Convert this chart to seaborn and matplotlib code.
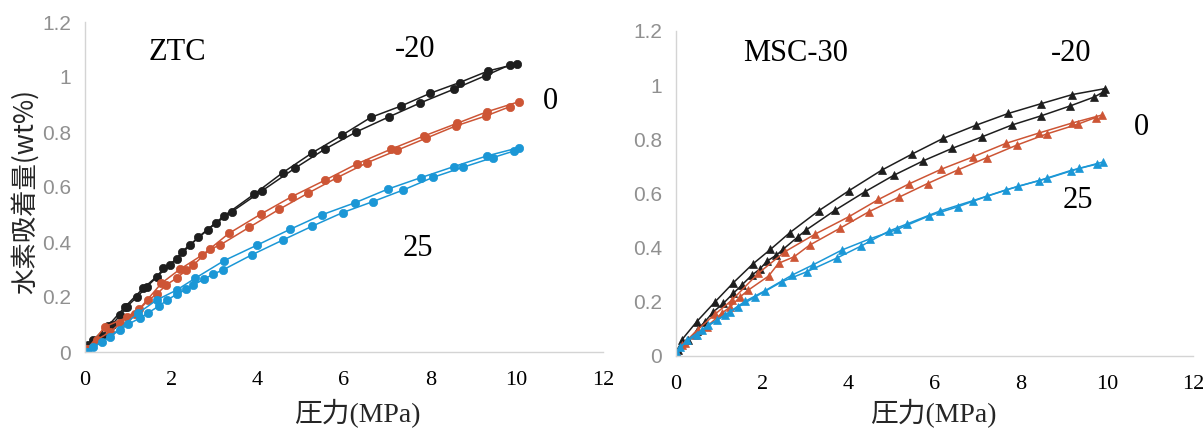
import matplotlib
matplotlib.use("Agg")
import matplotlib.pyplot as plt
import seaborn as sns
import pandas as pd

# ---------------- data: ZTC (left) ----------------
ztc_m20_ads_p = [0.08, 0.39, 0.62, 0.81, 0.97, 1.21, 1.43, 1.66, 1.81, 2.12, 2.24, 2.43, 2.84, 3.03, 3.40, 4.11, 4.86, 5.55, 6.28, 7.04, 7.77, 8.55, 9.28, 9.84]
ztc_m20_ads_q = [0.025, 0.058, 0.098, 0.133, 0.165, 0.201, 0.237, 0.272, 0.304, 0.337, 0.365, 0.389, 0.444, 0.468, 0.510, 0.587, 0.668, 0.737, 0.800, 0.855, 0.906, 0.956, 1.005, 1.044]
ztc_m20_des_p = [10.01, 9.34, 8.68, 8.00, 7.33, 6.62, 5.95, 5.26, 4.58, 3.91, 3.22, 2.62, 1.97, 1.35, 0.93, 0.54, 0.19, 0.04]
ztc_m20_des_q = [1.048, 1.022, 0.980, 0.941, 0.895, 0.853, 0.788, 0.724, 0.652, 0.573, 0.495, 0.417, 0.316, 0.232, 0.165, 0.096, 0.044, 0.007]

ztc_0_ads_p = [0.05, 0.27, 0.59, 0.81, 0.97, 1.26, 1.47, 1.67, 1.88, 2.12, 2.35, 2.51, 2.89, 3.13, 3.80, 4.50, 5.16, 5.84, 6.53, 7.22, 7.91, 8.59, 9.30, 9.84]
ztc_0_ads_q = [0.010, 0.044, 0.074, 0.104, 0.128, 0.155, 0.189, 0.211, 0.244, 0.268, 0.298, 0.316, 0.373, 0.389, 0.453, 0.519, 0.577, 0.634, 0.688, 0.733, 0.778, 0.822, 0.859, 0.892]
ztc_0_des_p = [10.05, 9.32, 8.61, 7.86, 7.08, 6.31, 5.55, 4.79, 4.08, 3.33, 2.72, 2.20, 1.77, 1.16, 0.46, 0.05]
ztc_0_des_q = [0.910, 0.874, 0.831, 0.786, 0.737, 0.685, 0.624, 0.565, 0.502, 0.431, 0.353, 0.301, 0.250, 0.138, 0.092, 0.010]

ztc_25_ads_p = [0.04, 0.19, 0.39, 0.81, 1.00, 1.27, 1.47, 1.71, 1.91, 2.12, 2.35, 2.51, 2.75, 2.97, 3.19, 3.86, 4.58, 5.27, 5.97, 6.67, 7.37, 8.06, 8.76, 9.45, 9.94]
ztc_25_ads_q = [0.001, 0.019, 0.037, 0.080, 0.101, 0.123, 0.143, 0.167, 0.189, 0.210, 0.228, 0.244, 0.264, 0.283, 0.298, 0.353, 0.407, 0.458, 0.507, 0.547, 0.589, 0.635, 0.672, 0.707, 0.731]
ztc_25_des_p = [10.05, 9.31, 8.54, 7.78, 7.01, 6.26, 5.49, 4.75, 3.99, 3.22, 2.55, 2.12, 1.66, 1.23, 0.58, 0.04]
ztc_25_des_q = [0.743, 0.713, 0.674, 0.634, 0.592, 0.543, 0.499, 0.446, 0.389, 0.332, 0.268, 0.225, 0.189, 0.141, 0.056, 0.001]

# ---------------- data: MSC-30 (right) ----------------
msc_m20_ads_p = [0.05, 0.29, 0.48, 0.67, 0.87, 1.10, 1.33, 1.53, 1.76, 1.94, 2.12, 2.33, 2.48, 2.83, 3.02, 3.70, 4.38, 5.05, 5.74, 6.41, 7.11, 7.79, 8.47, 9.15, 9.71, 9.90]
msc_m20_ads_q = [0.020, 0.057, 0.092, 0.125, 0.162, 0.193, 0.230, 0.261, 0.297, 0.319, 0.350, 0.371, 0.392, 0.439, 0.464, 0.538, 0.605, 0.666, 0.720, 0.766, 0.809, 0.852, 0.886, 0.923, 0.956, 0.973]
msc_m20_des_p = [9.96, 9.20, 8.47, 7.71, 6.97, 6.20, 5.48, 4.77, 4.01, 3.31, 2.64, 2.19, 1.78, 1.33, 0.91, 0.48, 0.13, 0.02]
msc_m20_des_q = [0.987, 0.965, 0.931, 0.895, 0.852, 0.803, 0.745, 0.685, 0.609, 0.535, 0.454, 0.392, 0.338, 0.269, 0.199, 0.125, 0.057, 0.010]

msc_0_ads_p = [0.03, 0.21, 0.44, 0.71, 1.06, 1.26, 1.49, 1.68, 2.15, 2.38, 2.74, 3.10, 3.80, 4.47, 5.17, 5.84, 6.54, 7.22, 7.91, 8.60, 9.32, 9.74]
msc_0_ads_q = [0.008, 0.047, 0.076, 0.106, 0.156, 0.180, 0.217, 0.242, 0.294, 0.341, 0.365, 0.408, 0.470, 0.531, 0.585, 0.636, 0.686, 0.732, 0.778, 0.819, 0.855, 0.880]
msc_0_des_p = [9.88, 9.20, 8.43, 7.65, 6.90, 6.16, 5.40, 4.70, 4.01, 3.23, 2.53, 1.91, 1.30, 0.90, 0.50, 0.15, 0.02]
msc_0_des_q = [0.889, 0.860, 0.823, 0.784, 0.735, 0.689, 0.634, 0.577, 0.513, 0.449, 0.384, 0.304, 0.205, 0.152, 0.095, 0.040, 0.008]

msc_25_ads_p = [0.02, 0.09, 0.48, 0.75, 0.95, 1.26, 1.45, 1.84, 2.46, 3.04, 3.74, 4.30, 4.94, 5.37, 6.12, 6.90, 7.65, 8.43, 9.16, 9.78]
msc_25_ads_q = [0.005, 0.033, 0.076, 0.113, 0.131, 0.162, 0.180, 0.217, 0.273, 0.310, 0.361, 0.405, 0.460, 0.487, 0.534, 0.573, 0.612, 0.647, 0.684, 0.708]
msc_25_des_p = [9.92, 9.36, 8.62, 7.94, 7.22, 6.54, 5.87, 5.13, 4.51, 3.85, 3.19, 2.69, 2.07, 1.60, 1.14, 0.60, 0.25, 0.03]
msc_25_des_q = [0.716, 0.692, 0.655, 0.626, 0.589, 0.550, 0.516, 0.466, 0.432, 0.390, 0.336, 0.297, 0.240, 0.200, 0.150, 0.094, 0.057, 0.010]

temps = ["-20", "0", "25"]
x_ticks = [0, 2, 4, 6, 8, 10, 12]
y_ticks = [0, 0.2, 0.4, 0.6, 0.8, 1.0, 1.2]
y_tick_labels = ["0", "0.2", "0.4", "0.6", "0.8", "1", "1.2"]
x_label = "圧力(MPa)"
y_label = "水素吸着量(wt%)"

colors = {"-20": "#1e1e1e", "0": "#cd5535", "25": "#1b97d6"}


def build(series):
    rows = []
    for temp, branch, ps, qs in series:
        for p, q in zip(ps, qs):
            rows.append({"P": p, "Q": q, "T": temp, "branch": f"{temp}_{branch}"})
    return pd.DataFrame(rows)


df_ztc = build([
    ("-20", "ads", ztc_m20_ads_p, ztc_m20_ads_q), ("-20", "des", ztc_m20_des_p, ztc_m20_des_q),
    ("0", "ads", ztc_0_ads_p, ztc_0_ads_q), ("0", "des", ztc_0_des_p, ztc_0_des_q),
    ("25", "ads", ztc_25_ads_p, ztc_25_ads_q), ("25", "des", ztc_25_des_p, ztc_25_des_q),
])
df_msc = build([
    ("-20", "ads", msc_m20_ads_p, msc_m20_ads_q), ("-20", "des", msc_m20_des_p, msc_m20_des_q),
    ("0", "ads", msc_0_ads_p, msc_0_ads_q), ("0", "des", msc_0_des_p, msc_0_des_q),
    ("25", "ads", msc_25_ads_p, msc_25_ads_q), ("25", "des", msc_25_des_p, msc_25_des_q),
])

sns.set_theme(style="white")
plt.rcParams["font.family"] = ["Liberation Serif", "Noto Sans CJK JP"]

fig = plt.figure(figsize=(12.04, 4.30), dpi=100)
ax1 = fig.add_axes([85 / 1204, 78 / 430, 518 / 1204, 330 / 430])
ax2 = fig.add_axes([676 / 1204, 74.5 / 430, 517 / 1204, 324.5 / 430])


def draw(ax, df, marker, ms):
    for br, sub in df.groupby("branch", sort=False):
        t = sub["T"].iloc[0]
        sns.lineplot(data=sub, x="P", y="Q", ax=ax, color=colors[t], sort=False,
                     estimator=None, marker=marker, markersize=ms, linewidth=1.1,
                     markeredgecolor=colors[t], markeredgewidth=0.5, legend=False)
    ax.set_xlim(0, 12)
    ax.set_ylim(0, 1.2)
    ax.set_xticks(x_ticks)
    ax.set_xticklabels([str(v) for v in x_ticks], fontsize=16, color="black",
                       family="Liberation Serif")
    ax.set_yticks(y_ticks)
    ax.set_yticklabels(y_tick_labels, fontsize=15, color="#909090", family="Liberation Sans")
    ax.set_xlabel("")
    ax.set_ylabel("")
    for s in ["top", "right"]:
        ax.spines[s].set_visible(False)
    for s in ["left", "bottom"]:
        ax.spines[s].set_color("#d4d4d4")
        ax.spines[s].set_linewidth(1.0)
    ax.tick_params(axis="both", which="major", direction="out", length=5, width=1,
                   color="#d4d4d4", pad=5)
    ax.tick_params(axis="x", pad=9)
    ax.patch.set_alpha(0)


draw(ax1, df_ztc, "o", 6)
draw(ax2, df_msc, "^", 6)

ann = dict(fontsize=22, family="Liberation Serif", ha="center", va="center", color="black")
ax1.text(2.15, 1.09, "ZTC", **ann)
ax1.text(7.64, 1.10, "-20", **ann)
ax1.text(10.79, 0.91, "0", clip_on=False, **ann)
ax1.text(7.71, 0.378, "25", **ann)
ax2.text(2.77, 1.118, "MSC-30", **ann)
ax2.text(9.16, 1.118, "-20", **ann)
ax2.text(10.81, 0.844, "0", clip_on=False, **ann)
ax2.text(9.33, 0.574, "25", **ann)

fig.text(357 / 1204, 1 - 414 / 430, x_label, fontsize=20, ha="center", va="center",
         family=["Liberation Serif", "Noto Sans CJK JP"])
fig.text(933 / 1204, 1 - 414 / 430, x_label, fontsize=20, ha="center", va="center",
         family=["Liberation Serif", "Noto Sans CJK JP"])
fig.text(25 / 1204, 1 - 192 / 430, y_label, fontsize=19, rotation=90, ha="center", va="center",
         family=["Noto Sans CJK JP"])

fig.savefig("out.png", dpi=100)
